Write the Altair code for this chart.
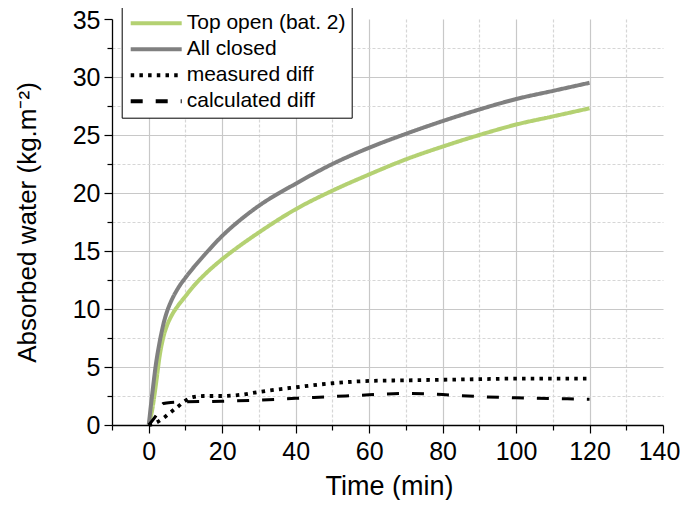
import altair as alt
import pandas as pd

# ---- data ----
time_main = [0, 1, 2, 3, 4, 5, 6, 8, 10, 12, 15, 20, 25, 30, 40, 50, 60, 70, 80, 90, 100, 110, 120]
top_open = [0, 1.4, 3.6, 6.0, 7.6, 8.6, 9.3, 10.3, 11.1, 11.9, 12.9, 14.3, 15.5, 16.6, 18.6, 20.2,
            21.6, 22.9, 24.0, 25.0, 25.9, 26.6, 27.3]
all_closed = [0, 2.8, 5.35, 7.2, 8.7, 9.8, 10.6, 11.8, 12.7, 13.5, 14.6, 16.3, 17.7, 18.9, 20.8,
              22.5, 23.9, 25.1, 26.2, 27.2, 28.1, 28.8, 29.5]

time_meas = [0, 2, 4, 6, 8, 10, 12, 15, 20, 25, 30, 40, 50, 60, 70, 80, 90, 100, 110, 120]
measured_diff = [0, 0.2, 0.6, 1.1, 1.6, 2.1, 2.4, 2.5, 2.5, 2.6, 2.85, 3.25, 3.6, 3.8, 3.85,
                 3.9, 3.95, 4.0, 4.0, 4.0]

time_calc = [0, 2, 4, 6, 10, 20, 30, 40, 50, 60, 70, 80, 90, 100, 110, 120]
calculated_diff = [0, 0.8, 1.85, 1.95, 2.0, 2.05, 2.15, 2.3, 2.45, 2.6, 2.72, 2.62, 2.45,
                   2.35, 2.28, 2.22]

series_names = ["Top open (bat. 2)", "All closed", "measured diff", "calculated diff"]
series_colors = ["#b4d172", "#808080", "#000000", "#000000"]
series_dashes = [[1, 0], [1, 0], [3.5, 5.2], [12, 13]]
series_widths = [4, 4, 3.8, 3]

x_ticks = list(range(-10, 141, 10))
y_ticks = [i * 2.5 for i in range(0, 15)]

rows = []
for name, ts, vs in zip(series_names,
                        [time_main, time_main, time_meas, time_calc],
                        [top_open, all_closed, measured_diff, calculated_diff]):
    for t, v in zip(ts, vs):
        rows.append({"t": t, "v": v, "series": name})
df = pd.DataFrame(rows)

FONT = "Liberation Sans"

x_axis = alt.Axis(
    values=x_ticks,
    labelExpr="datum.value % 20 === 0 ? datum.label : ''",
    title="Time (min)",
    titleFontSize=27, titleFontWeight="normal", titleColor="black", titleFont=FONT,
    titleX=277, titleY=69, titleBaseline="alphabetic", titleAlign="center",
    labelFontSize=25, labelColor="black", labelFont=FONT, labelPadding=6,
    labelOffset={"condition": {"test": "datum.value >= 140", "value": -4}, "value": 0},
    labelOverlap=False, labelFlush=False,
    grid=True,
    gridDash={"condition": {"test": "datum.value % 20 !== 0", "value": [3, 2]}, "value": []},
    gridColor={"condition": {"test": "datum.value % 20 !== 0", "value": "#d6d6d6"}, "value": "#c8c8c8"},
    gridOpacity={"condition": {"test": "datum.value <= -10 || datum.value >= 140", "value": 0}, "value": 1},
    gridWidth=1.2,
    tickSize={"condition": {"test": "datum.value % 20 !== 0", "value": 5}, "value": 8},
    tickColor="black", tickWidth=1.2,
    domainColor="black", domainWidth=1.3,
)

y_axis = alt.Axis(
    values=y_ticks,
    labelExpr="datum.value % 5 === 0 ? datum.label : ''",
    title="Absorbed water (kg.m⁻²)",
    titleFontSize=26, titleFontWeight="normal", titleColor="black", titleFont=FONT,
    titleX=-77, titleY=203, titleBaseline="alphabetic", titleAlign="center", titleAngle=270,
    labelFontSize=25, labelColor="black", labelFont=FONT, labelPadding=4,
    labelOffset={"condition": {"test": "datum.value >= 35", "value": 1.5}, "value": 0},
    labelOverlap=False, labelFlush=False,
    grid=True,
    gridDash={"condition": {"test": "datum.value % 5 !== 0", "value": [3, 2]}, "value": []},
    gridColor={"condition": {"test": "datum.value % 5 !== 0", "value": "#d6d6d6"}, "value": "#c8c8c8"},
    gridOpacity={"condition": {"test": "datum.value <= 0 || datum.value >= 35", "value": 0}, "value": 1},
    gridWidth=1.2,
    tickSize={"condition": {"test": "datum.value % 5 !== 0", "value": 5}, "value": 8},
    tickColor="black", tickWidth=1.2,
    domainColor="black", domainWidth=1.3,
)

legend = alt.Legend(
    orient="none", legendX=9.7, legendY=-12.3, title=None,
    symbolType="M-5.1,0H5.1", symbolSize=100, symbolStrokeWidth=4,
    symbolFillColor="transparent",
    symbolOffset=18, labelOffset=20,
    labelFontSize=21, labelFont=FONT, labelColor="black", labelLimit=400,
    padding=6, rowPadding=4,
    strokeColor="black", fillColor="white", cornerRadius=0,
)

base = alt.Chart(df).encode(
    x=alt.X("t:Q", scale=alt.Scale(domain=[-10, 140], nice=False, zero=False), axis=x_axis),
    y=alt.Y("v:Q", scale=alt.Scale(domain=[0, 35], nice=False), axis=y_axis),
    color=alt.Color("series:N", sort=series_names,
                    scale=alt.Scale(domain=series_names, range=series_colors), legend=legend),
    strokeDash=alt.StrokeDash("series:N", sort=series_names,
                              scale=alt.Scale(domain=series_names, range=series_dashes), legend=legend),
)

layers = []
for name, w in zip(series_names, series_widths):
    layers.append(
        base.transform_filter(alt.datum.series == name)
        .mark_line(strokeWidth=w, interpolate="monotone", strokeCap="butt", strokeJoin="round")
    )

chart = alt.layer(*layers).properties(
    width=551, height=406,
    autosize=alt.AutoSizeParams(type="none"),
    padding={"left": 104, "top": 11, "right": 17, "bottom": 75},
).configure(font=FONT).configure_view(stroke=None)

chart.save("out.html", embed_options={"renderer": "svg", "actions": False})
